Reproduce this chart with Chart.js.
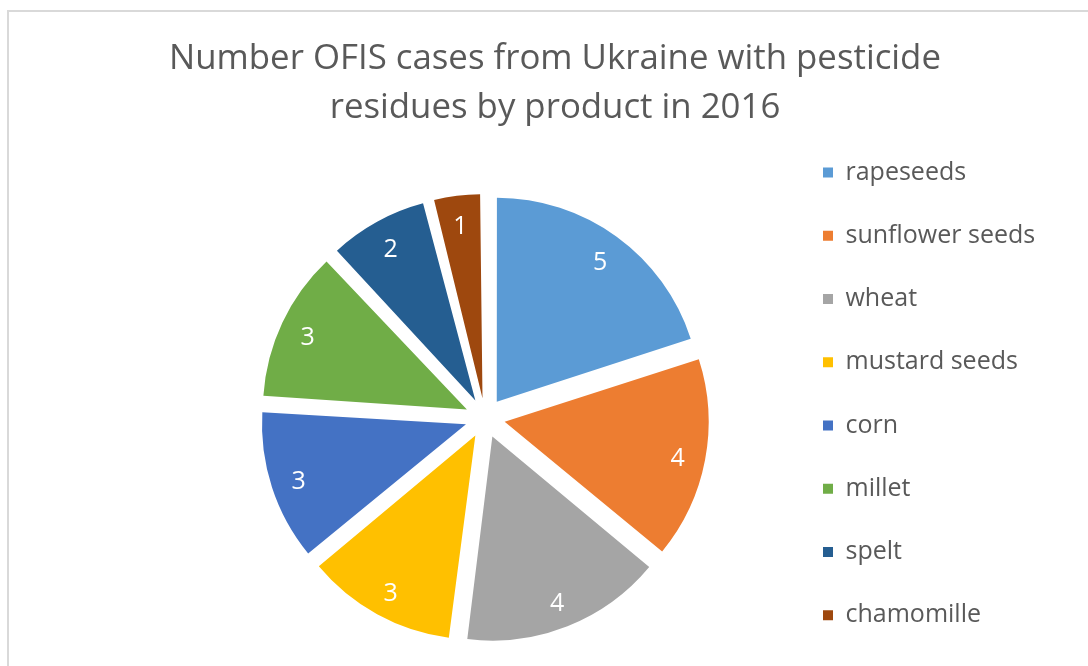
<!DOCTYPE html>
<html><head><meta charset="utf-8">
<script src="https://cdn.jsdelivr.net/npm/chart.js@4.4.1/dist/chart.umd.min.js"></script>
<style>
html,body{margin:0;padding:0;background:#fff;}
#wrap{position:relative;width:1088px;height:666px;overflow:hidden;}
#frame{position:absolute;left:7px;top:10px;width:1200px;height:800px;border-left:2px solid #d9d9d9;border-top:2px solid #d9d9d9;pointer-events:none;}
canvas{position:absolute;left:0;top:0;}
</style></head><body>
<div id="wrap"><div id="frame"></div><canvas id="c" width="1088" height="666"></canvas></div>
<script>
const categories = ['rapeseeds', 'sunflower seeds', 'wheat', 'mustard seeds', 'corn', 'millet', 'spelt', 'chamomille'];
const cases = [5, 4, 4, 3, 3, 3, 2, 1];
const sliceColors = ['#5B9BD5', '#ED7D31', '#A5A5A5', '#FFC000', '#4472C4', '#70AD47', '#255E91', '#9E480E'];
const titleLines = ['Number OFIS cases from Ukraine with pesticide', 'residues by product in 2016'];

const FONT = "'Open Sans', 'Noto Sans', sans-serif";
const W = 1088, H = 666;
const PIE_RADIUS = 204;
const PIE_CX = 485;          // pie centre x (chart-area centre)
const EXPLODE = 80;          // Chart.js arc offset (slice moves offset/4 px)
const LABEL_DIST = 176;      // label distance from the moved slice apex
const LABEL_FS = 25;

const TITLE_FS = 34.8, TITLE_LH = 48.4, TITLE_CX = 555, TITLE_TOP = 35.1, CHART_TOP = 170;

const LEG_FS = 25, LEG_BOX = 10, LEG_STEP = 63.25, LEG_BOX_X = 823;
const LEG_PAD = LEG_STEP - LEG_FS;

// layout arithmetic
const chartRight = LEG_BOX_X - LEG_PAD;
const chartLeft = 2 * PIE_CX - chartRight;
const mctx = document.createElement('canvas').getContext('2d');
mctx.font = LEG_FS + 'px ' + FONT;
const maxText = Math.max(...categories.map(t => mctx.measureText(t).width));
const legendWidth = Math.floor(LEG_PAD + LEG_BOX + LEG_FS / 2 + maxText + 10) - 1;
const padRight = W - chartRight - legendWidth;
const padLeft = padRight + (2 * TITLE_CX - W);
const leftSpacer = chartLeft - padLeft;

Chart.defaults.font.family = FONT;

// Chart.js grows small exploded slices' radius; keep every slice at the same radius
const equalRadius = {
  id: 'equalRadius',
  afterDatasetsUpdate(chart) {
    chart.getDatasetMeta(0).data.forEach(arc => {
      const fix = 1 - Math.sin(Math.min(Math.PI, arc.circumference || 0));
      arc.outerRadius = PIE_RADIUS - (EXPLODE / 4) * fix;
    });
  }
};

const sliceLabels = {
  id: 'sliceLabels',
  afterDatasetsDraw(chart) {
    const ctx = chart.ctx;
    const meta = chart.getDatasetMeta(0);
    const values = chart.data.datasets[0].data;
    ctx.save();
    ctx.fillStyle = '#ffffff';
    ctx.font = LABEL_FS + 'px ' + FONT;
    ctx.textAlign = 'center';
    ctx.textBaseline = 'alphabetic';
    meta.data.forEach((arc, i) => {
      const mid = (arc.startAngle + arc.endAngle) / 2;
      const d = EXPLODE / 4 + LABEL_DIST;
      const x = arc.x + Math.cos(mid) * d;
      const y = arc.y + Math.sin(mid) * d;
      ctx.fillText(String(values[i]), x, y + 2 + LABEL_FS * 0.357);
    });
    ctx.restore();
  }
};

new Chart(document.getElementById('c'), {
  type: 'pie',
  data: {
    labels: categories,
    datasets: [{
      data: cases,
      backgroundColor: sliceColors,
      borderWidth: 0,
      offset: EXPLODE,
      radius: PIE_RADIUS,
      clip: false
    }]
  },
  options: {
    responsive: false,
    animation: false,
    events: [],
    layout: { padding: { left: padLeft, right: padRight, top: 0, bottom: 0 } },
    plugins: {
      title: {
        display: true,
        text: titleLines,
        color: '#595959',
        font: { family: FONT, size: TITLE_FS, weight: 'normal', lineHeight: TITLE_LH + 'px' },
        padding: { top: TITLE_TOP, bottom: CHART_TOP - TITLE_TOP - 2 * TITLE_LH }
      },
      subtitle: {
        display: true,
        position: 'left',
        fullSize: false,
        text: ' ',
        font: { size: 10, lineHeight: '10px' },
        padding: { top: leftSpacer - 10, bottom: 0 }
      },
      legend: {
        position: 'right',
        align: 'end',
        fullSize: true,
        maxWidth: legendWidth,
        labels: {
          boxWidth: LEG_BOX,
          boxHeight: LEG_BOX,
          padding: LEG_PAD,
          color: '#595959',
          font: { family: FONT, size: LEG_FS }
        }
      },
      tooltip: { enabled: false }
    }
  },
  plugins: [equalRadius, sliceLabels]
});
</script>
</body></html>
